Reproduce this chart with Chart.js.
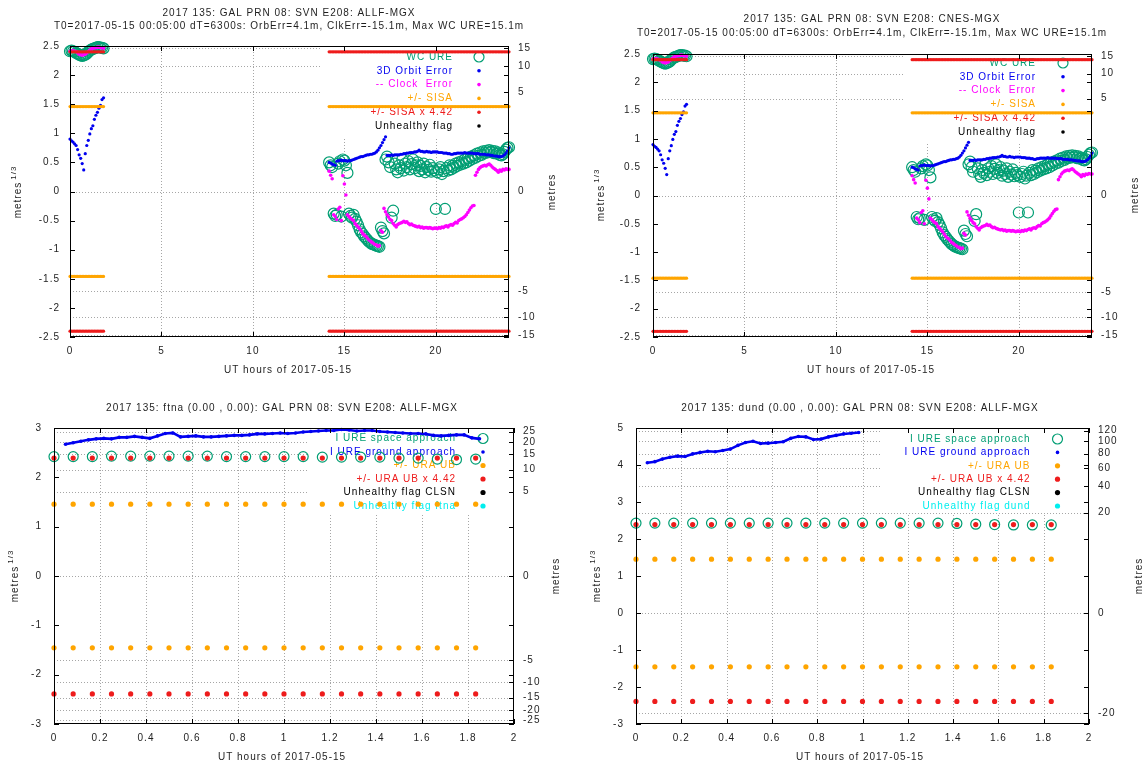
<!DOCTYPE html>
<html>
<head>
<meta charset="utf-8">
<script src="https://cdn.jsdelivr.net/npm/chart.js"></script>
<style>
  body { margin: 0; background: #fff; width: 1148px; height: 764px; position: relative; overflow: hidden; }
  canvas { position: absolute; }
</style>
</head>
<body>
<canvas id="allf" width="574" height="382" style="left:0;top:0"></canvas>
<canvas id="cnes" width="574" height="382" style="left:574px;top:0"></canvas>
<canvas id="ftna" width="574" height="382" style="left:0;top:382px"></canvas>
<canvas id="dund" width="574" height="382" style="left:574px;top:382px"></canvas>
<script>
// epochs, minutes after 00:00 UT of 2017-05-15
var epochsEarly = [0, 5, 10, 15, 20, 25, 30, 35, 40, 45, 50, 55, 60, 65, 70, 75, 80, 85, 90, 95, 100, 105, 110];
var epochsLate = [
  850, 855, 860, 865, 870, 875, 880, 885, 890, 895, 900, 905,
  910, 915, 920, 925, 930, 935, 940, 945, 950, 955, 960, 965,
  970, 975, 980, 985, 990, 995, 1000, 1005, 1010, 1015, 1020, 1025,
  1030, 1035, 1040, 1045, 1050, 1055, 1060, 1065, 1070, 1075, 1080, 1085,
  1090, 1095, 1100, 1105, 1110, 1115, 1120, 1125, 1130, 1135, 1140, 1145,
  1150, 1155, 1160, 1165, 1170, 1175, 1180, 1185, 1190, 1195, 1200, 1205,
  1210, 1215, 1220, 1225, 1230, 1235, 1240, 1245, 1250, 1255, 1260, 1265,
  1270, 1275, 1280, 1285, 1290, 1295, 1300, 1305, 1310, 1315, 1320, 1325,
  1330, 1335, 1340, 1345, 1350, 1355, 1360, 1365, 1370, 1375, 1380, 1385,
  1390, 1395, 1400, 1405, 1410, 1415, 1420, 1425, 1430, 1435, 1440];

// all values in metres^(1/3)
var wcUreEarly = [2.41, 2.42, 2.41, 2.40, 2.38, 2.37, 2.35, 2.34, 2.33, 2.34, 2.35, 2.37, 2.40, 2.42, 2.44, 2.45, 2.46, 2.47, 2.48, 2.48, 2.47, 2.47, 2.46];
var orbitEarly = [0.90, 0.87, 0.85, 0.82, 0.79, 0.72, 0.63, 0.57, 0.48, 0.37, 0.65, 0.79, 0.88, 0.99, 1.08, 1.13, 1.24, 1.31, 1.36, 1.43, 1.48, 1.58, 1.61];
var clockEarly = [2.41, 2.41, 2.42, 2.41, 2.40, 2.39, 2.36, 2.35, 2.34, 2.35, 2.36, 2.38, 2.41, 2.43, 2.45, 2.46, 2.47, 2.47, 2.48, 2.48, 2.47, 2.47, 2.46];

var wcUreLate = [
  0.50, 0.45, 0.42, -0.38, -0.42, -0.40, 0.48, 0.52, -0.43, 0.55, 0.53, 0.45,
  0.32, -0.38, -0.42, -0.45, -0.40, -0.47, -0.52, -0.58, -0.65, -0.70, -0.73, -0.77,
  -0.80, -0.83, -0.86, -0.88, -0.90, -0.91, -0.92, -0.93, -0.94, -0.95, -0.62, -0.68,
  -0.72, 0.55, 0.60, 0.50, 0.42, -0.45, -0.33, 0.48, 0.38, 0.33, 0.45, 0.40,
  0.55, 0.36, 0.48, 0.42, 0.52, 0.38, 0.47, 0.55, 0.40, 0.45, 0.50, 0.35,
  0.44, 0.38, 0.48, 0.33, 0.42, 0.37, 0.46, 0.34, 0.40, 0.36, -0.30, 0.33,
  0.38, 0.42, 0.30, 0.35, -0.30, 0.40, 0.36, 0.45, 0.38, 0.44, 0.41, 0.48,
  0.44, 0.50, 0.46, 0.52, 0.48, 0.55, 0.50, 0.57, 0.53, 0.60, 0.56, 0.62,
  0.58, 0.65, 0.61, 0.67, 0.63, 0.69, 0.66, 0.70, 0.67, 0.71, 0.68, 0.70,
  0.66, 0.69, 0.65, 0.67, 0.63, 0.62, 0.64, 0.68, 0.72, 0.75, 0.76];
var orbitLate = [
  0.50, 0.49, 0.47, 0.46, 0.45, 0.52, 0.53, 0.53, 0.54, 0.53, 0.53, 0.53,
  0.52, 0.53, 0.53, 0.54, 0.55, 0.56, 0.57, 0.58, 0.59, 0.60, 0.60, 0.61,
  0.62, 0.63, 0.63, 0.64, 0.64, 0.65, 0.66, 0.68, 0.71, 0.75, 0.79, 0.84,
  0.89, 0.94, 0.62, 0.62, 0.62, 0.63, 0.62, 0.63, 0.63, 0.63, 0.63, 0.64,
  0.64, 0.65, 0.65, 0.66, 0.66, 0.67, 0.67, 0.67, 0.68, 0.68, 0.69, 0.71,
  0.69, 0.69, 0.68, 0.68, 0.69, 0.68, 0.68, 0.67, 0.68, 0.68, 0.68, 0.68,
  0.67, 0.67, 0.67, 0.66, 0.66, 0.66, 0.65, 0.65, 0.64, 0.64, 0.65, 0.65,
  0.66, 0.66, 0.66, 0.66, 0.66, 0.67, 0.66, 0.66, 0.66, 0.66, 0.66, 0.65,
  0.65, 0.65, 0.65, 0.64, 0.64, 0.64, 0.64, 0.63, 0.63, 0.63, 0.62, 0.62,
  0.61, 0.61, 0.61, 0.60, 0.60, 0.60, 0.61, 0.63, 0.66, 0.70, 0.75];
var clockLate = [
  0.35, 0.28, 0.22, -0.40, -0.43, -0.48, -0.30, -0.27, -0.50, 0.27, 0.13, -0.06,
  -0.40, -0.43, -0.46, -0.48, -0.50, -0.55, -0.58, -0.61, -0.64, -0.68, -0.72, -0.75,
  -0.77, -0.80, -0.83, -0.85, -0.87, -0.89, -0.91, -0.92, -0.94, -0.93, -0.67, -0.70,
  -0.29, -0.35, -0.40, -0.44, -0.48, -0.50, -0.55, -0.58, -0.61, -0.57, -0.55, -0.54,
  -0.53, -0.51, -0.53, -0.52, -0.55, -0.57, -0.56, -0.58, -0.59, -0.60, -0.61, -0.60,
  -0.62, -0.61, -0.63, -0.62, -0.62, -0.63, -0.62, -0.63, -0.64, -0.63, -0.63, -0.64,
  -0.62, -0.63, -0.61, -0.62, -0.60, -0.59, -0.61, -0.58, -0.57, -0.58, -0.55, -0.53,
  -0.54, -0.50, -0.48, -0.47, -0.45, -0.43, -0.40, -0.36, -0.32, -0.28, -0.25, -0.24,
  0.28, 0.33, 0.38, 0.41, 0.43, 0.44, 0.45, 0.44, 0.46, 0.47, 0.45, 0.42,
  0.40, 0.38, 0.36, 0.33, 0.37, 0.35, 0.38, 0.37, 0.39, 0.38, 0.38];

var sisa = 1.46;
var sisaX442 = 2.40;
var uraUb = 1.455;
var uraUbX442 = 2.39;

var spaceUreFtna = [2.42, 2.42, 2.42, 2.43, 2.43, 2.43, 2.43, 2.43, 2.43, 2.42, 2.42, 2.42, 2.42, 2.42, 2.41, 2.41, 2.41, 2.41, 2.39, 2.39, 2.37, 2.36, 2.37];
var spaceUreDund = [2.43, 2.43, 2.43, 2.43, 2.43, 2.43, 2.43, 2.43, 2.43, 2.43, 2.43, 2.43, 2.43, 2.43, 2.43, 2.43, 2.43, 2.42, 2.40, 2.39, 2.38, 2.38, 2.38];

var groundFtnaMin = [3, 5, 7, 9, 11, 13, 15, 17, 19, 21,
  23, 25, 27, 29, 31, 33, 35, 37, 39, 41,
  43, 45, 47, 49, 51, 53, 55, 57, 59, 61,
  63, 65, 67, 69, 71, 73, 75, 77, 79, 81,
  83, 85, 87, 89, 91, 93, 95, 97, 99, 101,
  103, 105, 107, 109, 111];
var groundFtna = [2.67, 2.70, 2.73, 2.76, 2.78, 2.79, 2.78, 2.81, 2.81, 2.83,
  2.81, 2.79, 2.84, 2.89, 2.90, 2.82, 2.83, 2.84, 2.82, 2.82,
  2.83, 2.84, 2.85, 2.85, 2.86, 2.88, 2.88, 2.89, 2.90, 2.89,
  2.90, 2.92, 2.93, 2.94, 2.95, 2.95, 2.97, 2.96, 2.94, 2.95,
  2.95, 2.93, 2.92, 2.91, 2.90, 2.89, 2.89, 2.88, 2.85, 2.84,
  2.85, 2.86, 2.86, 2.80, 2.78];
var groundDundMin = [3, 5, 7, 9, 11, 13, 15, 17, 19, 21,
  23, 25, 27, 29, 31, 33, 35, 37, 39, 41,
  43, 45, 47, 49, 51, 53, 55, 57, 59];
var groundDund = [4.06, 4.09, 4.16, 4.21, 4.24, 4.23, 4.30, 4.34, 4.37, 4.36,
  4.39, 4.43, 4.53, 4.61, 4.64, 4.58, 4.59, 4.61, 4.63, 4.72,
  4.77, 4.76, 4.69, 4.70, 4.76, 4.80, 4.84, 4.86, 4.88];

// axis ticks
var hourTicksDay = [0, 5, 10, 15, 20];
var hourTicksArc = [0, 0.2, 0.4, 0.6, 0.8, 1, 1.2, 1.4, 1.6, 1.8, 2];
var leftTicksDay = [-2.5, -2, -1.5, -1, -0.5, 0, 0.5, 1, 1.5, 2, 2.5];
var leftTicksFtna = [-3, -2, -1, 0, 1, 2, 3];
var leftTicksDund = [-3, -2, -1, 0, 1, 2, 3, 4, 5];
var metresTicksDay = [-15, -10, -5, 0, 5, 10, 15];
var metresTicksFtna = [-25, -20, -15, -10, -5, 0, 5, 10, 15, 20, 25];
var metresTicksDund = [-20, 0, 20, 40, 60, 80, 100, 120];

var teal = "#009e73", blue = "#0000f0", magenta = "#ff00ff", orange = "#ffa500",
    red = "#ee1c1c", cyan = "#00eeee", ink = "#1e1e1e";
var FONT = '10px "Liberation Sans"';

Chart.defaults.font.family = "Liberation Sans";
Chart.defaults.font.size = 10;
Chart.defaults.color = ink;

function pts(mins, vals) {
  return mins.map(function (m, i) { return { x: m / 60, y: vals[i] }; });
}
// +/- bound at every epoch
function bound(mins, v) {
  return pts(mins, mins.map(function () { return v; }))
    .concat(pts(mins, mins.map(function () { return -v; })));
}
function ring(data, color, r, order) {
  return { data: data, order: order, clip: false, pointStyle: "circle", pointRadius: r,
    pointBorderColor: color, pointBackgroundColor: "rgba(0,0,0,0)", pointBorderWidth: 1.2 };
}
function dots(data, color, r, order) {
  return { data: data, order: order, clip: false, pointStyle: "circle", pointRadius: r,
    pointBorderColor: color, pointBackgroundColor: color, pointBorderWidth: 0 };
}
function trace(data, color, order) {
  return { data: data, order: order, clip: false, showLine: true, borderColor: color,
    borderWidth: 2.6, pointRadius: 1.8, pointBackgroundColor: color, pointBorderWidth: 0 };
}

var keyDay = [
  { text: "WC URE", color: teal, ring: true, r: 5 },
  { text: "3D Orbit Error", color: blue, r: 1.8 },
  { text: "-- Clock  Error", color: magenta, r: 1.8 },
  { text: "+/- SISA", color: orange, r: 1.8 },
  { text: "+/- SISA x 4.42", color: red, r: 1.8 },
  { text: "Unhealthy flag", color: "#000", r: 1.8 }
];
function keyStation(name) {
  return [
    { text: "I URE space approach", color: teal, ring: true, r: 5 },
    { text: "I URE ground approach", color: blue, r: 1.8 },
    { text: "+/- URA UB", color: orange, r: 2.6 },
    { text: "+/- URA UB x 4.42", color: red, r: 2.6 },
    { text: "Unhealthy flag CLSN", color: "#000", r: 2.6 },
    { text: "Unhealthy flag " + name, color: cyan, r: 2.6 }
  ];
}

function drawMarker(ctx, e, x, y) {
  ctx.beginPath();
  ctx.arc(x, y, e.r, 0, Math.PI * 2);
  if (e.ring) { ctx.strokeStyle = e.color; ctx.lineWidth = 1.2; ctx.stroke(); }
  else { ctx.fillStyle = e.color; ctx.fill(); }
}

function rotatedLabel(ctx, text, sup, x, y) {
  ctx.save();
  ctx.translate(x, y);
  ctx.rotate(-Math.PI / 2);
  ctx.textBaseline = "middle";
  ctx.textAlign = "left";
  ctx.font = FONT;
  var w1 = ctx.measureText(text).width;
  var w2 = 0;
  if (sup) { ctx.font = '8px "Liberation Sans"'; w2 = ctx.measureText(sup).width + 2; }
  var x0 = -(w1 + w2) / 2;
  ctx.font = FONT;
  ctx.fillText(text, x0, 0);
  if (sup) { ctx.font = '8px "Liberation Sans"'; ctx.fillText(sup, x0 + w1 + 2, -4); }
  ctx.restore();
}

// grid, key, frame, titles and axis names drawn around the library's scales
function decor(p) {
  return {
    id: "decor",
    beforeDraw: function (chart) { chart.ctx.letterSpacing = "1px"; },
    beforeDatasetsDraw: function (chart) {
      var ctx = chart.ctx, a = chart.chartArea;
      var sx = chart.scales.x, sr = chart.scales.y2;
      ctx.save();
      ctx.strokeStyle = "#a6a6a6";
      ctx.lineWidth = 1;
      ctx.setLineDash([1, 2]);
      ctx.beginPath();
      sx.ticks.forEach(function (t) {
        var x = Math.round(sx.getPixelForValue(t.value)) + 0.5;
        if (x < a.left + 2 || x > a.right - 2) return;
        ctx.moveTo(x, a.top); ctx.lineTo(x, a.bottom);
      });
      sr.ticks.forEach(function (t) {
        var y = Math.round(sr.getPixelForValue(t.value)) + 0.5;
        if (y < a.top + 1 || y > a.bottom - 1) return;
        ctx.moveTo(a.left, y); ctx.lineTo(a.right, y);
      });
      ctx.stroke();
      ctx.setLineDash([]);
      // opaque key box
      ctx.fillStyle = "#fff";
      ctx.fillRect(p.key.left, a.top + 1, a.right - 1 - p.key.left, p.key.bottom - a.top - 1);
      ctx.font = FONT;
      ctx.textAlign = "right";
      ctx.textBaseline = "middle";
      p.key.entries.forEach(function (e, i) {
        var y = p.key.top + i * p.key.step;
        ctx.fillStyle = e.color;
        ctx.fillText(e.text, a.right - p.key.textGap, y);
        drawMarker(ctx, e, a.right - p.key.markGap, y);
      });
      ctx.restore();
    },
    afterDatasetsDraw: function (chart) {
      var ctx = chart.ctx, a = chart.chartArea, L = 5;
      var sx = chart.scales.x, sy = chart.scales.y, sr = chart.scales.y2;
      ctx.save();
      ctx.strokeStyle = "#000";
      ctx.lineWidth = 1;
      ctx.strokeRect(a.left + 0.5, a.top + 0.5, a.right - a.left - 1, a.bottom - a.top - 1);
      ctx.beginPath();
      sx.ticks.forEach(function (t) {
        var x = Math.round(sx.getPixelForValue(t.value)) + 0.5;
        ctx.moveTo(x, a.bottom); ctx.lineTo(x, a.bottom - L);
        ctx.moveTo(x, a.top); ctx.lineTo(x, a.top + L);
      });
      sy.ticks.forEach(function (t) {
        var y = Math.round(sy.getPixelForValue(t.value)) + 0.5;
        ctx.moveTo(a.left, y); ctx.lineTo(a.left + L, y);
        ctx.moveTo(a.right, y); ctx.lineTo(a.right - L, y);
      });
      sr.ticks.forEach(function (t) {
        var y = Math.round(sr.getPixelForValue(t.value)) + 0.5;
        ctx.moveTo(a.right, y); ctx.lineTo(a.right - L, y);
      });
      ctx.stroke();
      ctx.restore();
    },
    afterDraw: function (chart) {
      var ctx = chart.ctx;
      ctx.save();
      ctx.fillStyle = ink;
      ctx.font = FONT;
      ctx.textAlign = "center";
      ctx.textBaseline = "middle";
      p.title.forEach(function (line, i) { ctx.fillText(line, p.titleX, p.titleY[i]); });
      ctx.fillText("UT hours of 2017-05-15", p.xName[0], p.xName[1]);
      rotatedLabel(ctx, "metres", "1/3", p.leftName[0], p.leftName[1]);
      rotatedLabel(ctx, "metres", null, p.rightName[0], p.rightName[1]);
      ctx.restore();
    }
  };
}

function panel(id, p) {
  var W = 574, H = 382;
  function fixed(list) {
    return function (s) { s.ticks = list.map(function (v) { return { value: v }; }); };
  }
  new Chart(document.getElementById(id), {
    type: "scatter",
    data: { datasets: p.datasets },
    options: {
      responsive: false,
      animation: false,
      devicePixelRatio: 1,
      events: [],
      layout: { padding: { top: p.area.t, left: 0, right: 0, bottom: 0 } },
      plugins: { legend: { display: false }, tooltip: { enabled: false } },
      scales: {
        x: {
          type: "linear", min: p.xRange[0], max: p.xRange[1],
          afterBuildTicks: fixed(p.xTicks),
          afterFit: function (s) { s.height = H - p.area.b; },
          grid: { display: false, drawTicks: false }, border: { display: false },
          ticks: { autoSkip: false, maxRotation: 0, padding: 8,
            callback: function (v, i) { return String(p.xTicks[i]); } }
        },
        y: {
          type: "linear", position: "left", min: p.yRange[0], max: p.yRange[1],
          afterBuildTicks: fixed(p.yTicks),
          afterFit: function (s) { s.width = p.area.l; },
          grid: { display: false, drawTicks: false }, border: { display: false },
          ticks: { autoSkip: false, padding: p.yPad,
            callback: function (v, i) { return String(p.yTicks[i]); } }
        },
        y2: {
          type: "linear", position: "right", min: p.yRange[0], max: p.yRange[1],
          afterBuildTicks: fixed(p.metresTicks.map(Math.cbrt)),
          afterFit: function (s) { s.width = W - p.area.r; },
          grid: { display: false, drawTicks: false }, border: { display: false },
          ticks: { autoSkip: false, padding: 9,
            callback: function (v, i) { return String(p.metresTicks[i]); } }
        }
      }
    },
    plugins: [decor(p)]
  });
}

function dayDatasets() {
  return [
    ring(pts(epochsEarly, wcUreEarly).concat(pts(epochsLate, wcUreLate)), teal, 5.5, 5),
    dots(pts(epochsEarly, orbitEarly).concat(pts(epochsLate, orbitLate)), blue, 1.6, 4),
    dots(pts(epochsEarly, clockEarly).concat(pts(epochsLate, clockLate)), magenta, 1.8, 3),
    dots(bound(epochsEarly, sisa).concat(bound(epochsLate, sisa)), orange, 1.6, 2),
    dots(bound(epochsEarly, sisaX442).concat(bound(epochsLate, sisaX442)), red, 1.6, 1)
  ];
}
function stationDatasets(space, groundMin, ground) {
  return [
    ring(pts(epochsEarly, space), teal, 5, 4),
    trace(pts(groundMin, ground), blue, 3),
    dots(bound(epochsEarly, uraUb), orange, 2.6, 2),
    dots(bound(epochsEarly, uraUbX442), red, 2.6, 1)
  ];
}

var orbitLine = "T0=2017-05-15 00:05:00 dT=6300s: OrbErr=4.1m, ClkErr=-15.1m, Max WC URE=15.1m";

panel("allf", {
  area: { l: 70, t: 46, r: 509, b: 337 },
  xRange: [0, 24], xTicks: hourTicksDay,
  yRange: [-2.5, 2.5], yTicks: leftTicksDay, yPad: 10, metresTicks: metresTicksDay,
  datasets: dayDatasets(),
  title: ["2017 135: GAL PRN 08: SVN E208: ALLF-MGX", orbitLine], titleX: 289, titleY: [13, 26],
  xName: [288, 370], leftName: [18, 192], rightName: [552, 192],
  key: { left: 320, bottom: 137, top: 57, step: 13.8, textGap: 56, markGap: 30, entries: keyDay }
});

panel("cnes", {
  area: { l: 79, t: 54, r: 518, b: 337 },
  xRange: [0, 24], xTicks: hourTicksDay,
  yRange: [-2.5, 2.5], yTicks: leftTicksDay, yPad: 12, metresTicks: metresTicksDay,
  datasets: dayDatasets(),
  title: ["2017 135: GAL PRN 08: SVN E208: CNES-MGX", orbitLine], titleX: 298, titleY: [19, 33],
  xName: [297, 370], leftName: [27, 195], rightName: [561, 195],
  key: { left: 329, bottom: 143, top: 63, step: 13.8, textGap: 56, markGap: 29, entries: keyDay }
});

panel("ftna", {
  area: { l: 54, t: 46, r: 514, b: 342 },
  xRange: [0, 2], xTicks: hourTicksArc,
  yRange: [-3, 3], yTicks: leftTicksFtna, yPad: 12, metresTicks: metresTicksFtna,
  datasets: stationDatasets(spaceUreFtna, groundFtnaMin, groundFtna),
  title: ["2017 135: ftna (0.00 , 0.00): GAL PRN 08: SVN E208: ALLF-MGX"], titleX: 282, titleY: [26],
  xName: [282, 375], leftName: [15, 194], rightName: [556, 194],
  key: { left: 307, bottom: 131, top: 56.5, step: 13.5, textGap: 58, markGap: 31, entries: keyStation("ftna") }
});

panel("dund", {
  area: { l: 62, t: 46, r: 515, b: 342 },
  xRange: [0, 2], xTicks: hourTicksArc,
  yRange: [-3, 5], yTicks: leftTicksDund, yPad: 12, metresTicks: metresTicksDund,
  datasets: stationDatasets(spaceUreDund, groundDundMin, groundDund),
  title: ["2017 135: dund (0.00 , 0.00): GAL PRN 08: SVN E208: ALLF-MGX"], titleX: 286, titleY: [26],
  xName: [286, 375], leftName: [23, 194], rightName: [565, 194],
  key: { left: 307, bottom: 131, top: 57, step: 13.4, textGap: 58.5, markGap: 31.5, entries: keyStation("dund") }
});
</script>
</body>
</html>
